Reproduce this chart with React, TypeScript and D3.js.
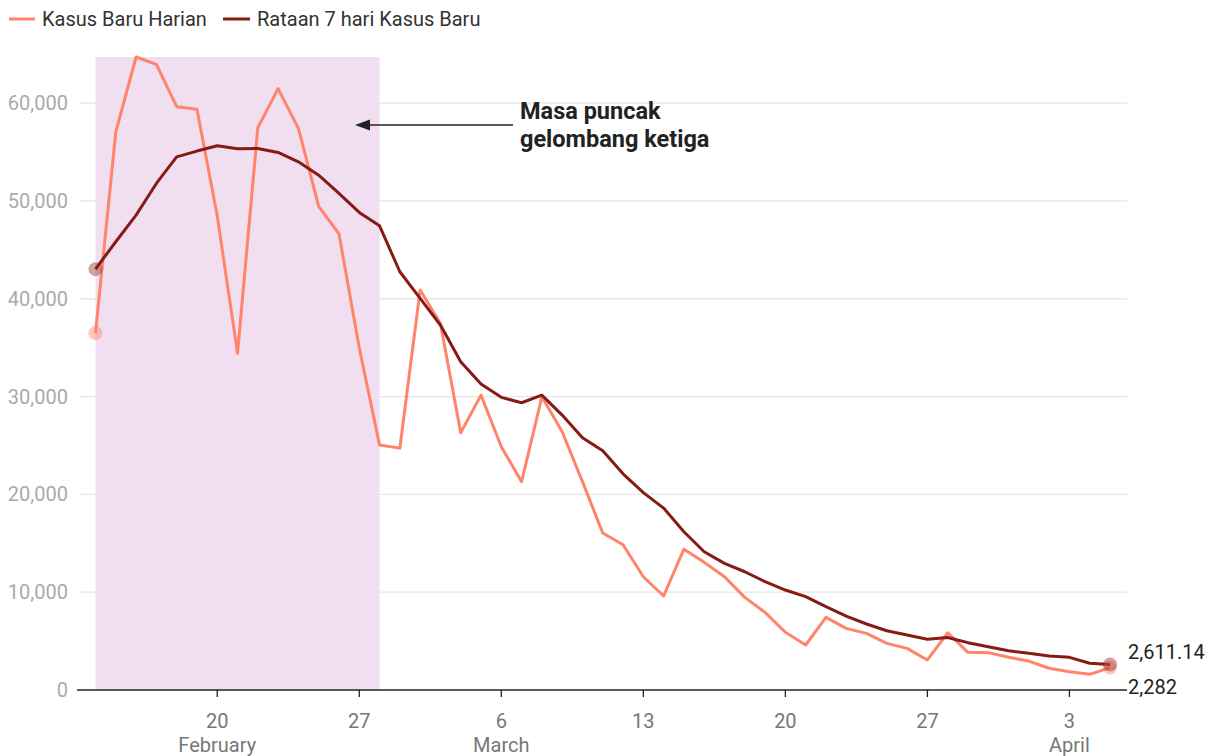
import React from "react";
import * as d3 from "d3";

// Indonesia, new COVID-19 cases, 14 Feb – 5 Apr 2022
const startDate = "2022-02-14";
const dailyCases = [
  36501, 57049, 64718, 63956, 59635, 59384, 48484, 34418, 57491, 61488, 57426, 49447, 46643, 34974, 25054,
  24728, 40890, 37480, 26300, 30150, 24870, 21290, 29980, 26400, 21300, 16050, 14850, 11580, 9610, 14400,
  13050, 11580, 9470, 7940, 5900, 4600, 7430, 6300, 5790, 4770, 4260, 3070, 5850, 3850, 3820, 3340,
  2960, 2220, 1870, 1600, 2282,
];
const avgCases = [
  43030, 45830, 48550, 51790, 54510, 55100, 55640, 55330, 55370, 54960, 54000, 52640, 50770, 48830, 47460,
  42760, 40040, 37310, 33560, 31280, 29920, 29370, 30150, 28110, 25790, 24450, 22100, 20180, 18600, 16180,
  14140, 12950, 12090, 11070, 10220, 9540, 8520, 7560, 6750, 6060, 5620, 5180, 5360, 4840, 4430, 4020,
  3750, 3480, 3340, 2730, 2611.14,
];
const yTicks = [0, 10000, 20000, 30000, 40000, 50000, 60000];
const peakStart = "2022-02-14";
const peakEnd = "2022-02-28";
const seriesNames = ["Kasus Baru Harian", "Rataan 7 hari Kasus Baru"];
const noteLines = ["Masa puncak", "gelombang ketiga"];

const DAILY = "#ff8469";
const AVG = "#861b15";
const FONT = "Roboto, sans-serif";

const parse = d3.timeParse("%Y-%m-%d");

export default function App() {
  const start = parse(startDate)!;
  const dates = dailyCases.map((_, i) => d3.timeDay.offset(start, i));
  const last = dates[dates.length - 1];

  const x = d3.scaleTime().domain([start, last]).range([95.5, 1110]);
  const y = d3.scaleLinear().domain([0, d3.max(dailyCases)!]).range([690, 57]);

  const line = d3
    .line<number>()
    .x((_, i) => x(dates[i]))
    .y((d) => y(d));

  const xTicks = d3.timeWeek.range(d3.timeDay.offset(start, 1), d3.timeDay.offset(last, 1));
  const fmtNum = d3.format(",");
  const seenMonths = new Set<number>();

  const n = dailyCases.length - 1;

  return (
    <svg
      width={1213}
      height={756}
      style={{ position: "absolute", left: 0, top: 0, fontFamily: FONT }}
    >
      {/* legend */}
      <g>
        <line x1={9} x2={35} y1={19} y2={19} stroke={DAILY} strokeWidth={3} />
        <text x={42} y={26} fontSize={20} fill="#333">{seriesNames[0]}</text>
        <line x1={223} x2={250} y1={19} y2={19} stroke={AVG} strokeWidth={3} />
        <text x={257} y={26} fontSize={20} fill="#333">{seriesNames[1]}</text>
      </g>

      {/* peak period shading */}
      <rect
        x={x(parse(peakStart)!)}
        y={y.range()[1]}
        width={x(parse(peakEnd)!) - x(parse(peakStart)!)}
        height={y(0) - y.range()[1]}
        fill="#f1dff1"
      />

      {/* grid + y labels */}
      {yTicks.map((t) => (
        <g key={t}>
          {t > 0 && (
            <line x1={80} x2={1127} y1={y(t)} y2={y(t)} stroke="#e6e6e6" strokeWidth={1.3} />
          )}
          <text x={68} y={y(t)} dy="0.35em" textAnchor="end" fontSize={20} fill="#aaa">
            {fmtNum(t)}
          </text>
        </g>
      ))}

      {/* x axis */}
      <line x1={77} x2={1127} y1={y(0)} y2={y(0)} stroke="#222" strokeWidth={1.3} />
      {xTicks.map((d) => {
        const m = d.getMonth();
        const showMonth = !seenMonths.has(m);
        seenMonths.add(m);
        return (
          <g key={+d} transform={`translate(${x(d)},0)`}>
            <line y1={y(0)} y2={y(0) + 7} stroke="#222" strokeWidth={1.3} />
            <text y={728} textAnchor="middle" fontSize={20} fill="#777">
              {d.getDate()}
            </text>
            {showMonth && (
              <text y={752} textAnchor="middle" fontSize={20} fill="#777">
                {d3.timeFormat("%B")(d)}
              </text>
            )}
          </g>
        );
      })}

      {/* lines */}
      <path d={line(dailyCases)!} fill="none" stroke={DAILY} strokeWidth={3} strokeLinejoin="round" />
      <path d={line(avgCases)!} fill="none" stroke={AVG} strokeWidth={3} strokeLinejoin="round" />

      {/* end point dots */}
      <circle cx={x(dates[0])} cy={y(dailyCases[0])} r={7} fill={DAILY} opacity={0.45} />
      <circle cx={x(dates[0])} cy={y(avgCases[0])} r={7} fill={AVG} opacity={0.4} />
      <circle cx={x(dates[n])} cy={y(dailyCases[n])} r={7} fill={DAILY} opacity={0.45} />
      <circle cx={x(dates[n])} cy={y(avgCases[n])} r={7} fill={AVG} opacity={0.4} />

      {/* end labels */}
      <text x={1128} y={y(avgCases[n]) - 12} dy="0.35em" fontSize={20} fill="#222">
        {d3.format(",.2f")(avgCases[n])}
      </text>
      <text x={1128} y={y(dailyCases[n]) + 19} dy="0.35em" fontSize={20} fill="#222">
        {fmtNum(dailyCases[n])}
      </text>

      {/* annotation */}
      <line x1={513} x2={368} y1={125} y2={125} stroke="#222" strokeWidth={1.5} />
      <path d="M355,125 L370,119.5 L370,130.5 Z" fill="#222" />
      {noteLines.map((t, i) => (
        <text key={t} x={520} y={119 + i * 28} fontSize={23.5} fontWeight="bold" fill="#222">
          {t}
        </text>
      ))}
    </svg>
  );
}
